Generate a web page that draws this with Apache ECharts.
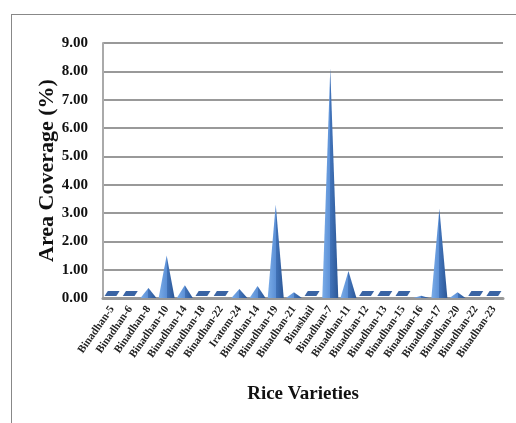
<!DOCTYPE html>
<html>
<head>
<meta charset="utf-8">
<script src="https://cdn.jsdelivr.net/npm/echarts@6/dist/echarts.min.js"></script>
<style>
  html, body { margin: 0; padding: 0; background: #fff; }
  #frame { position: absolute; left: 11px; top: 14px; width: 520px; height: 430px; border-left: 1.5px solid #888; border-top: 1.5px solid #888; }
  #chart { position: absolute; left: 0; top: 0; width: 516px; height: 423px; }
</style>
</head>
<body>
<div id="frame"></div>
<div id="chart"></div>
<script>
// rice varieties and their area coverage (%)
const varieties = [
  "Binadhan-5", "Binadhan-6", "Binadhan-8", "Binadhan-10", "Binadhan-14",
  "Binadhan-18", "Binadhan-22", "Iratom-24", "Binadhan-14", "Binadhan-19",
  "Binadhan-21", "Binashail", "Binadhan-7", "Binadhan-11", "Binadhan-12",
  "Binadhan-13", "Binadhan-15", "Binadhan-16", "Binadhan-17", "Binadhan-20",
  "Binadhan-22", "Binadhan-23"
];
const coverage = [
  0, 0, 0.35, 1.5, 0.45,
  0, 0, 0.32, 0.42, 3.3,
  0.2, 0, 8.1, 0.95, 0,
  0, 0, 0.08, 3.15, 0.2,
  0, 0
];
const yTicks = { min: 0, max: 9, interval: 1 };

const serif = "Liberation Serif";
const chart = echarts.init(document.getElementById("chart"));

const coneColor = new echarts.graphic.LinearGradient(0, 0, 1, 0, [
  { offset: 0, color: "#7aace8" },
  { offset: 0.5, color: "#5c90d6" },
  { offset: 0.5, color: "#4274ba" },
  { offset: 1, color: "#2c5796" }
]);

const option = {
  backgroundColor: "transparent",
  animation: false,
  grid: { left: 103, right: 13, top: 43, bottom: 125 },
  xAxis: {
    type: "category",
    data: varieties,
    name: "Rice Varieties",
    nameLocation: "middle",
    nameGap: 87,
    nameMoveOverlap: false,
    nameTextStyle: { fontFamily: serif, fontWeight: "bold", fontSize: 19, color: "#111" },
    axisLine: { show: true, lineStyle: { color: "#999", width: 3 } },
    axisTick: { show: false },
    axisLabel: {
      interval: 0,
      rotate: 55,
      margin: 9,
      fontFamily: serif,
      fontWeight: "bold",
      fontSize: 11,
      color: "#222"
    }
  },
  yAxis: {
    type: "value",
    min: yTicks.min,
    max: yTicks.max,
    interval: yTicks.interval,
    name: "Area Coverage (%)",
    nameLocation: "middle",
    nameGap: 45,
    nameMoveOverlap: false,
    nameTextStyle: { fontFamily: serif, fontWeight: "bold", fontSize: 22, color: "#111" },
    axisLine: { show: true, lineStyle: { color: "#aaa", width: 2 } },
    axisTick: { show: false },
    splitLine: { lineStyle: { color: "#999", width: 2 } },
    axisLabel: {
      margin: 15,
      fontFamily: serif,
      fontWeight: "bold",
      fontSize: 15,
      color: "#111",
      formatter: v => v.toFixed(2)
    }
  },
  series: [
    {
      // flat floor pieces where a variety has no coverage
      type: "pictorialBar",
      data: coverage.map(v => (v === 0 ? 0 : "-")),
      symbol: "path://M3,0 L14,0 L11,4 L0,4 Z",
      symbolSize: [15, 5],
      symbolPosition: "start",
      symbolOffset: [0, "-40%"],
      itemStyle: { color: "#3a64a4" },
      z: 2,
      silent: true
    },
    {
      type: "pictorialBar",
      data: coverage,
      symbol: "path://M5,0 L10,10 L0,10 Z",
      symbolSize: [16, "100%"],
      symbolPosition: "start",
      itemStyle: { color: coneColor },
      z: 3
    }
  ]
};

chart.setOption(option);
</script>
</body>
</html>
